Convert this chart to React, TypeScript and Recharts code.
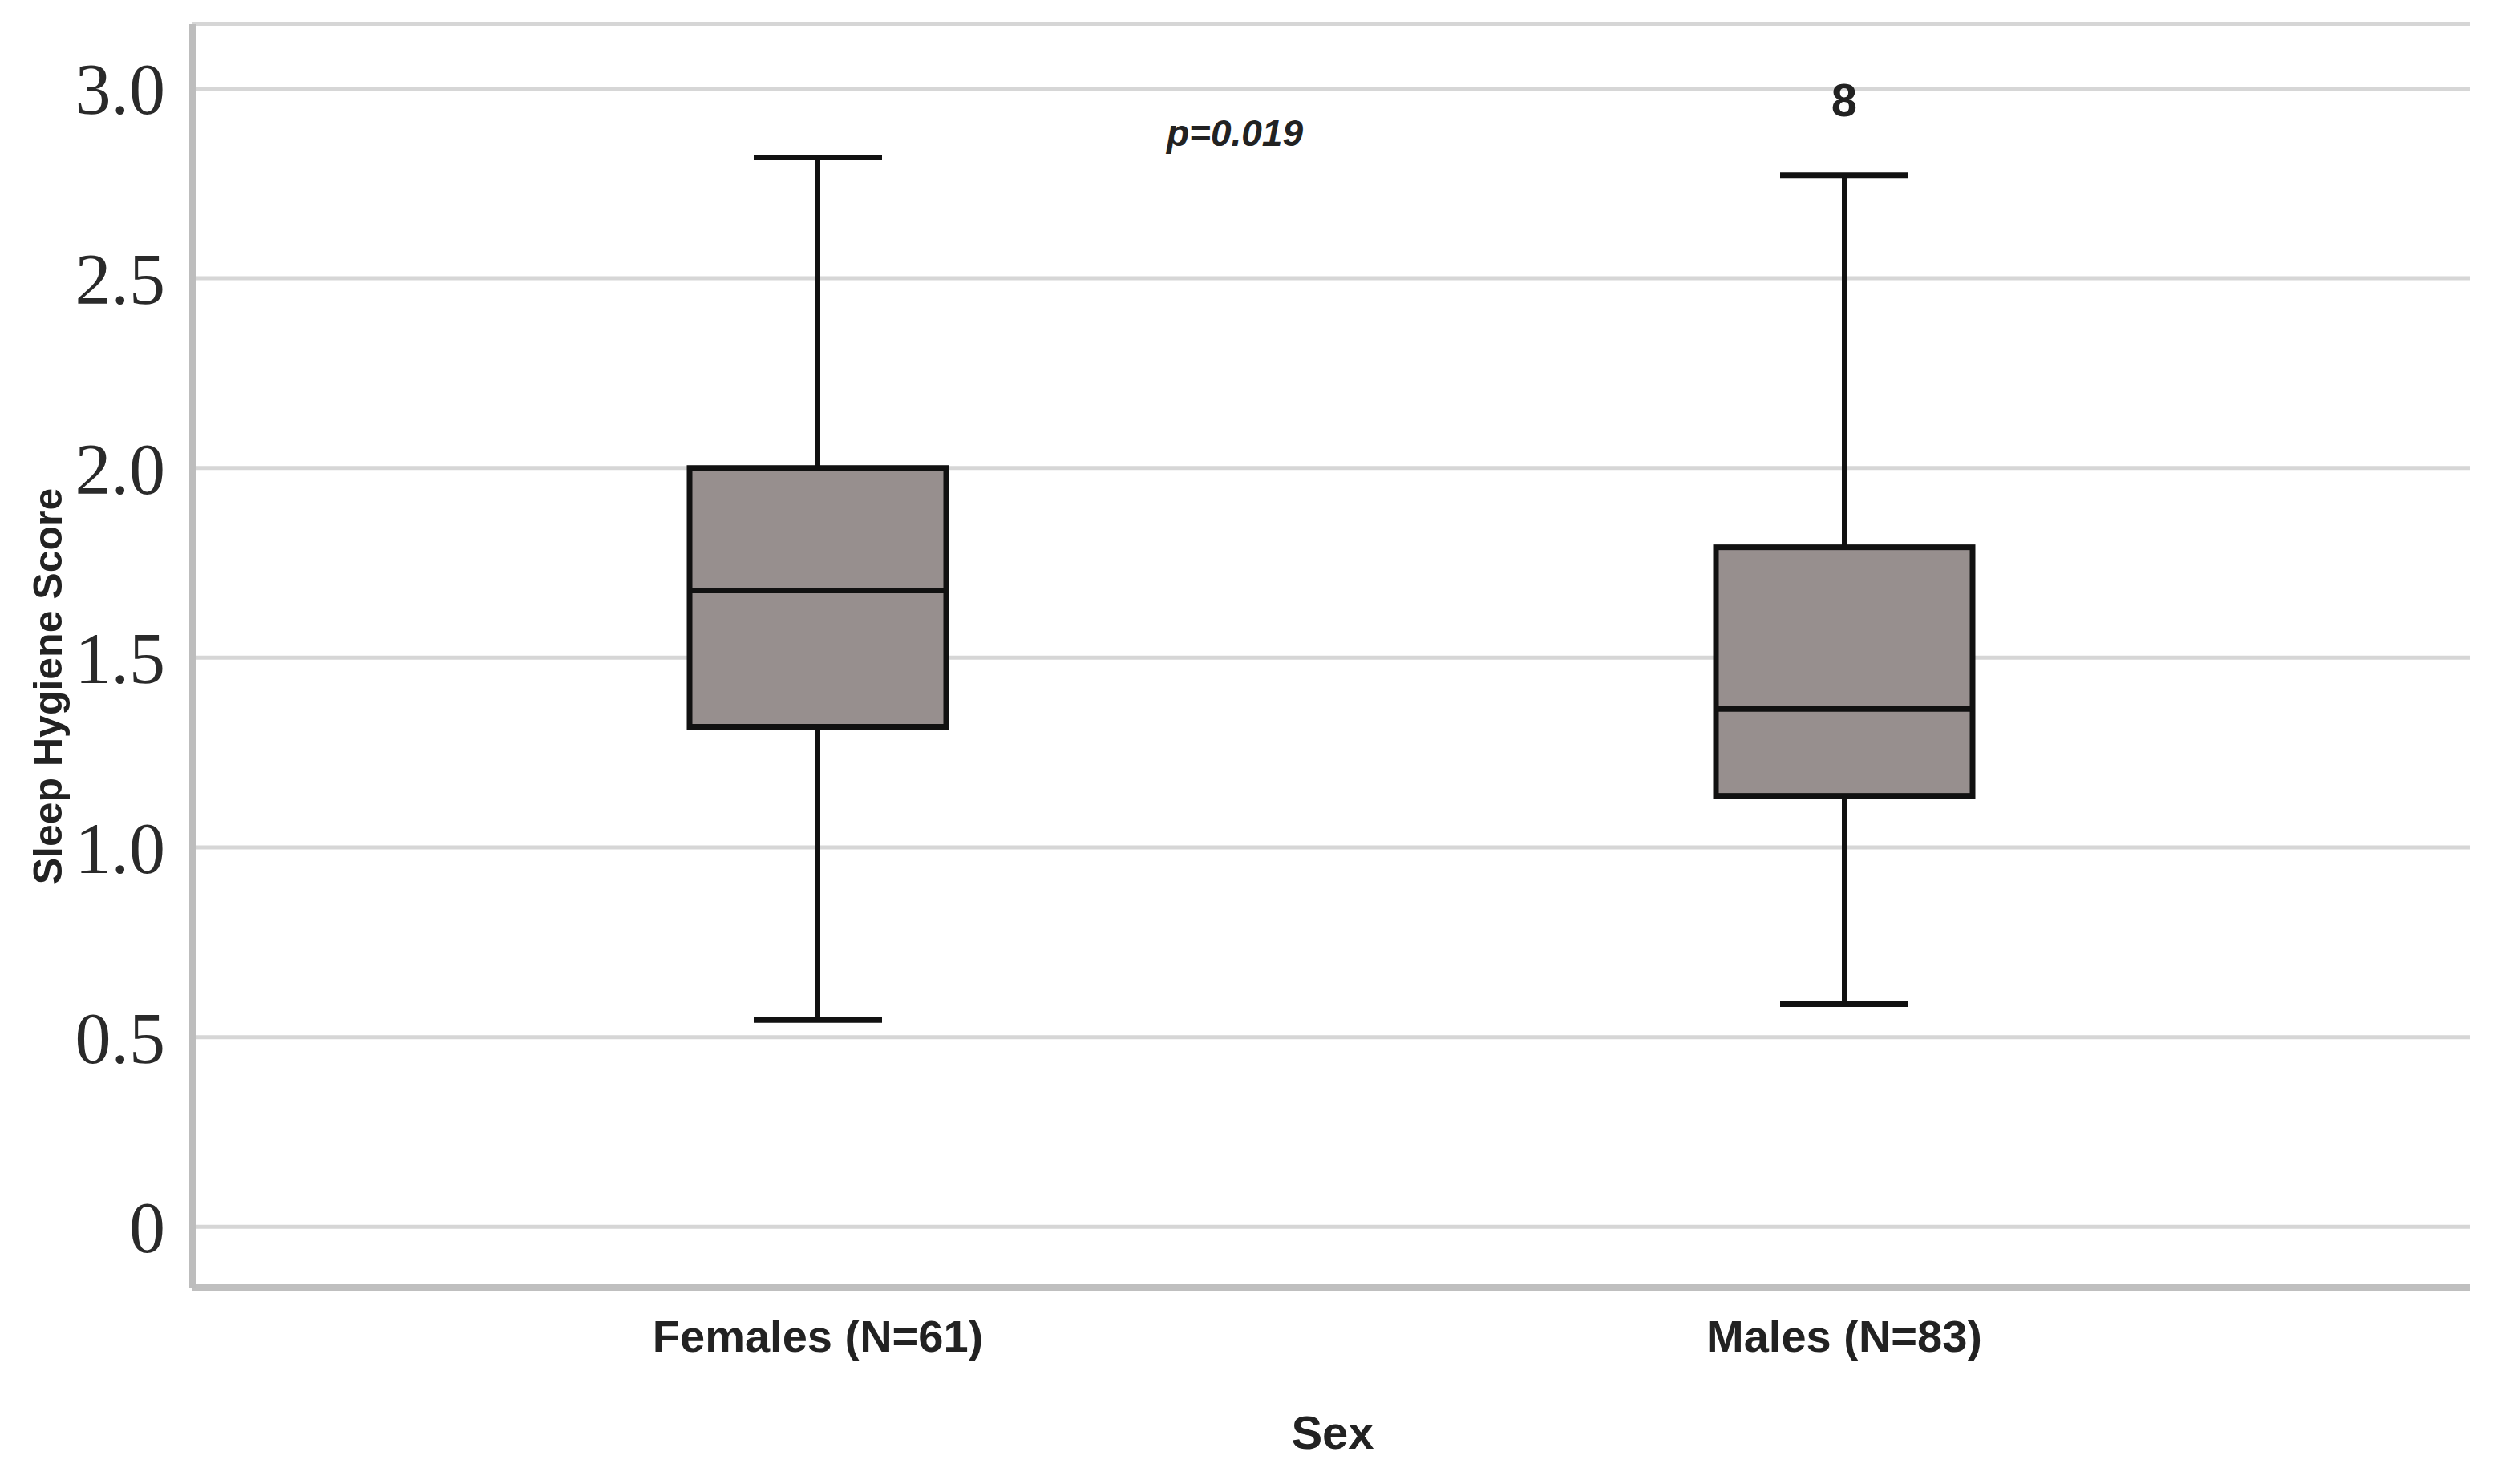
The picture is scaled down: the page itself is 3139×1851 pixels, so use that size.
import { ComposedChart, Bar, XAxis, YAxis, CartesianGrid, ReferenceDot } from "recharts";

const groups = ["Females (N=61)", "Males (N=83)"];
const whiskerLow = [0.545, 0.587];
const quartile1 = [1.318, 1.136];
const medians = [1.677, 1.365];
const quartile3 = [2.0, 1.791];
const whiskerHigh = [2.818, 2.771];

const outlierGroup = "Males (N=83)";
const outlierValue = 2.97;
const outlierLabel = "8";

const yTicks = [0, 0.5, 1.0, 1.5, 2.0, 2.5, 3.0];
const pValueText = "p=0.019";

const data = groups.map((g, i) => ({
  group: g,
  min: whiskerLow[i],
  q1: quartile1[i],
  median: medians[i],
  q3: quartile3[i],
  max: whiskerHigh[i],
}));

const sans = "'Liberation Sans', Arial, sans-serif";
const serif = "'Liberation Serif', 'Times New Roman', serif";

function BoxShape(props: any) {
  const { x, y, width, height, payload } = props;
  const { min, q1, median, q3, max } = payload;
  const top = Math.min(y, y + height);
  const h = Math.abs(height);
  const k = h / (max - min);
  const py = (v: number) => top + (max - v) * k;
  const cx = x + width / 2;
  const capHalf = width / 4;
  return (
    <g>
      <line x1={cx} x2={cx} y1={py(max)} y2={py(min)} stroke="#111" strokeWidth={6} />
      <line x1={cx - capHalf} x2={cx + capHalf} y1={py(max)} y2={py(max)} stroke="#111" strokeWidth={7} />
      <line x1={cx - capHalf} x2={cx + capHalf} y1={py(min)} y2={py(min)} stroke="#111" strokeWidth={7} />
      <rect
        x={x}
        y={py(q3)}
        width={width}
        height={py(q1) - py(q3)}
        fill="#978f8e"
        stroke="#111"
        strokeWidth={7}
      />
      <line x1={x} x2={x + width} y1={py(median)} y2={py(median)} stroke="#111" strokeWidth={7} />
    </g>
  );
}

export default function App() {
  return (
    <div style={{ position: "absolute", left: 0, top: 0, width: 3139, height: 1851, background: "#fff" }}>
      <ComposedChart
        width={3139}
        height={1851}
        data={data}
        margin={{ top: 30, right: 59, bottom: 95, left: 0 }}
      >
        <CartesianGrid vertical={false} stroke="#d6d6d6" strokeWidth={5} />
        <XAxis
          dataKey="group"
          padding={{ left: 140, right: 140 }}
          axisLine={{ stroke: "#bfbfbf", strokeWidth: 8 }}
          tickLine={false}
          tickSize={6}
          tickMargin={34}
          height={150}
          tick={{ fontSize: 56, fontWeight: 700, fill: "#222", fontFamily: sans }}
        />
        <YAxis
          type="number"
          domain={[-0.16, 3.17]}
          ticks={yTicks}
          tickFormatter={(v: number) => (v === 0 ? "0" : v.toFixed(1))}
          width={240}
          axisLine={{ stroke: "#bdbdbd", strokeWidth: 8 }}
          tickLine={false}
          tickSize={6}
          tickMargin={28}
          tick={{ fontSize: 90, fill: "#2a2a2a", fontFamily: serif }}
        />
        <Bar
          dataKey={(d: any) => [d.min, d.max]}
          barSize={320}
          shape={BoxShape}
          isAnimationActive={false}
        />
        <ReferenceDot
          x={outlierGroup}
          y={outlierValue}
          r={0}
          fill="none"
          stroke="none"
          ifOverflow="visible"
          label={{
            value: outlierLabel,
            position: "center",
            fontSize: 58,
            fontWeight: 700,
            fill: "#222",
            fontFamily: sans,
          }}
        />
      </ComposedChart>
      <div
        style={{
          position: "absolute",
          left: 60,
          top: 856,
          transform: "translate(-50%, -50%) rotate(-90deg)",
          fontFamily: sans,
          fontWeight: 700,
          fontSize: 50,
          color: "#222",
          whiteSpace: "nowrap",
        }}
      >
        Sleep Hygiene Score
      </div>
      <div
        style={{
          position: "absolute",
          left: 1662,
          top: 1786,
          transform: "translate(-50%, -50%)",
          fontFamily: sans,
          fontWeight: 700,
          fontSize: 58,
          color: "#222",
          whiteSpace: "nowrap",
        }}
      >
        Sex
      </div>
      <div
        style={{
          position: "absolute",
          left: 1540,
          top: 166,
          transform: "translate(-50%, -50%)",
          fontFamily: sans,
          fontWeight: 700,
          fontStyle: "italic",
          fontSize: 46,
          color: "#222",
          whiteSpace: "nowrap",
        }}
      >
        {pValueText}
      </div>
    </div>
  );
}
